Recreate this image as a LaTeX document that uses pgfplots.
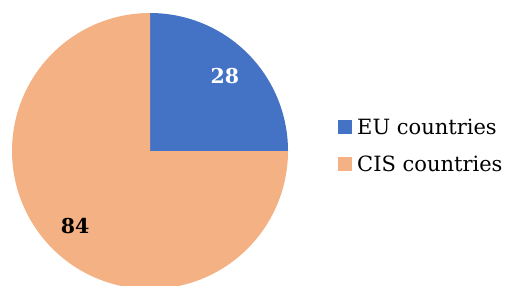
\documentclass[border=0pt]{standalone}
\usepackage{pgfplots}
\pgfplotsset{compat=1.18}
\usepackage{pgfplotstable}
\usepackage{fontspec}
\setmainfont{DejaVu Serif}
\definecolor{eu}{HTML}{4472C4}
\definecolor{cis}{HTML}{F4B183}
\pgfplotstableread{
label value
EU 28
CIS 84
}\piedata
\begin{document}
\begin{tikzpicture}
\pgfplotstablegetelem{0}{value}\of\piedata \let\vEU\pgfplotsretval
\pgfplotstablegetelem{1}{value}\of\piedata \let\vCIS\pgfplotsretval
\pgfmathsetmacro\tot{\vEU+\vCIS}
\pgfmathsetmacro\aA{90}
\pgfmathsetmacro\aB{90-360*(\vEU/\tot)}
\pgfmathsetmacro\aC{\aB-360*(\vCIS/\tot)}
\pgfmathsetmacro\mA{(\aA+\aB)/2}
\pgfmathsetmacro\mB{(\aB+\aC)/2}
\pgfmathsetmacro\lAx{150+106*cos(\mA)}
\pgfmathsetmacro\lAy{151-106*sin(\mA)}
\pgfmathsetmacro\lBx{150+106*cos(\mB)}
\pgfmathsetmacro\lBy{151-106*sin(\mB)}
\begin{axis}[
  scale only axis, width=505pt, height=285pt,
  xmin=0, xmax=505, ymin=0, ymax=285, y dir=reverse,
  hide axis, clip=true,
  legend image code/.code={\fill[#1] (0pt,-7pt) rectangle (14pt,7pt); \path (18pt,0pt);},
  legend style={draw=none, fill=none, at={(axis cs:338,146)}, anchor=west,
    font=\fontsize{21}{25}\selectfont, row sep=18pt, inner sep=0pt,
    nodes={inner sep=1pt}},
  legend cell align=left,
]
\addplot[fill=eu, draw=none, domain=\aB:\aA, samples=91] ({150+138*cos(x)},{151-138*sin(x)}) -- (axis cs:150,151) -- cycle;
\addlegendentry{EU countries}
\addplot[fill=cis, draw=none, domain=\aC:\aB, samples=271] ({150+138*cos(x)},{151-138*sin(x)}) -- (axis cs:150,151) -- cycle;
\addlegendentry{CIS countries}
\node[text=white, font=\bfseries\fontsize{20.5}{24}\selectfont] at (axis cs:\lAx,\lAy) {\vEU};
\node[text=black, font=\bfseries\fontsize{20.5}{24}\selectfont] at (axis cs:\lBx,\lBy) {\vCIS};
\end{axis}
\pgfresetboundingbox
\useasboundingbox (current axis.south west) rectangle (current axis.north east);
\end{tikzpicture}
\end{document}
